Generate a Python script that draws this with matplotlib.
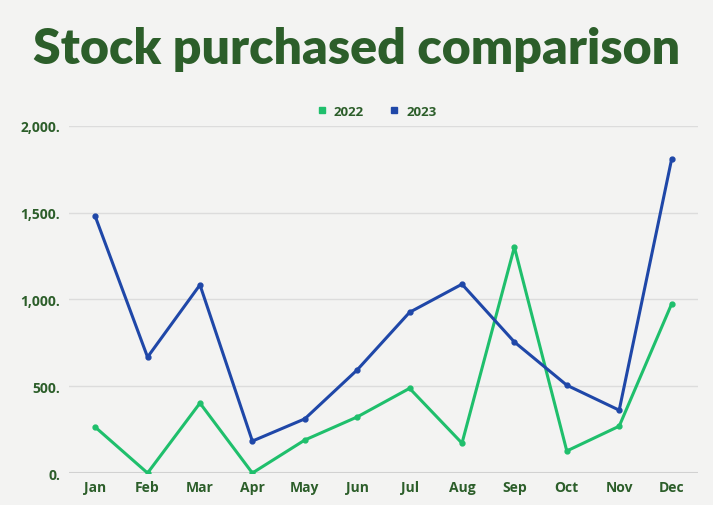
import matplotlib.pyplot as plt
from matplotlib.ticker import FuncFormatter

months = ['Jan', 'Feb', 'Mar', 'Apr', 'May', 'Jun',
          'Jul', 'Aug', 'Sep', 'Oct', 'Nov', 'Dec']
stock_2022 = [265, 0, 403, 0, 190, 323, 488, 172, 1302, 127, 270, 974]
stock_2023 = [1480, 668, 1084, 184, 312, 594, 926, 1088, 755, 506, 362, 1808]
yticks = [0, 500, 1000, 1500, 2000]

green = '#1fbf6c'
blue = '#1f47a8'
dark = '#2c5e2a'
bg = '#f3f3f2'

fig = plt.figure(figsize=(7.13, 5.06), dpi=100, facecolor=bg)
ax = fig.add_axes([0.0967, 0.0632, 0.882, 0.686])
ax.set_facecolor(bg)

x = range(len(months))
ax.plot(x, stock_2022, color=green, lw=2.2, marker='o', ms=3.5, label='2022')
ax.plot(x, stock_2023, color=blue, lw=2.2, marker='o', ms=3.5, label='2023')

ax.set_xlim(-0.5, 11.5)
ax.set_ylim(0, 2000)
ax.set_xticks(list(x))
ax.set_xticklabels(months)
ax.set_yticks(yticks)
ax.yaxis.set_major_formatter(FuncFormatter(lambda v, p: '{:,.0f}.'.format(v)))
ax.grid(axis='y', color='#dcdcdc', lw=1)
ax.set_axisbelow(True)
for s in ax.spines.values():
    s.set_visible(False)
ax.axhline(0, color='#cfcfcf', lw=1.5, zorder=0)
ax.tick_params(length=0, labelsize=10, labelcolor=dark)
ax.tick_params(axis='x', pad=5)
ax.tick_params(axis='y', pad=6.5)
for t in ax.get_xticklabels() + ax.get_yticklabels():
    t.set_fontweight('bold')
    t.set_family('Open Sans')

leg = ax.legend(loc='lower center', bbox_to_anchor=(0.49, 0.99), ncol=2, frameon=False,
                handlelength=0.6, handletextpad=0.6, columnspacing=2.0,
                prop={'family': 'Open Sans', 'weight': 'bold', 'size': 9.5})
for h in leg.legend_handles:
    h.set_linestyle('')
    h.set_marker('s')
    h.set_markersize(5)
for t in leg.get_texts():
    t.set_color(dark)

fig.text(0.5, 0.902, 'Stock purchased comparison', ha='center', va='center',
         fontsize=36, fontweight='heavy', family='Lato', color=dark)

fig.savefig('out.png', dpi=100, facecolor=bg)
